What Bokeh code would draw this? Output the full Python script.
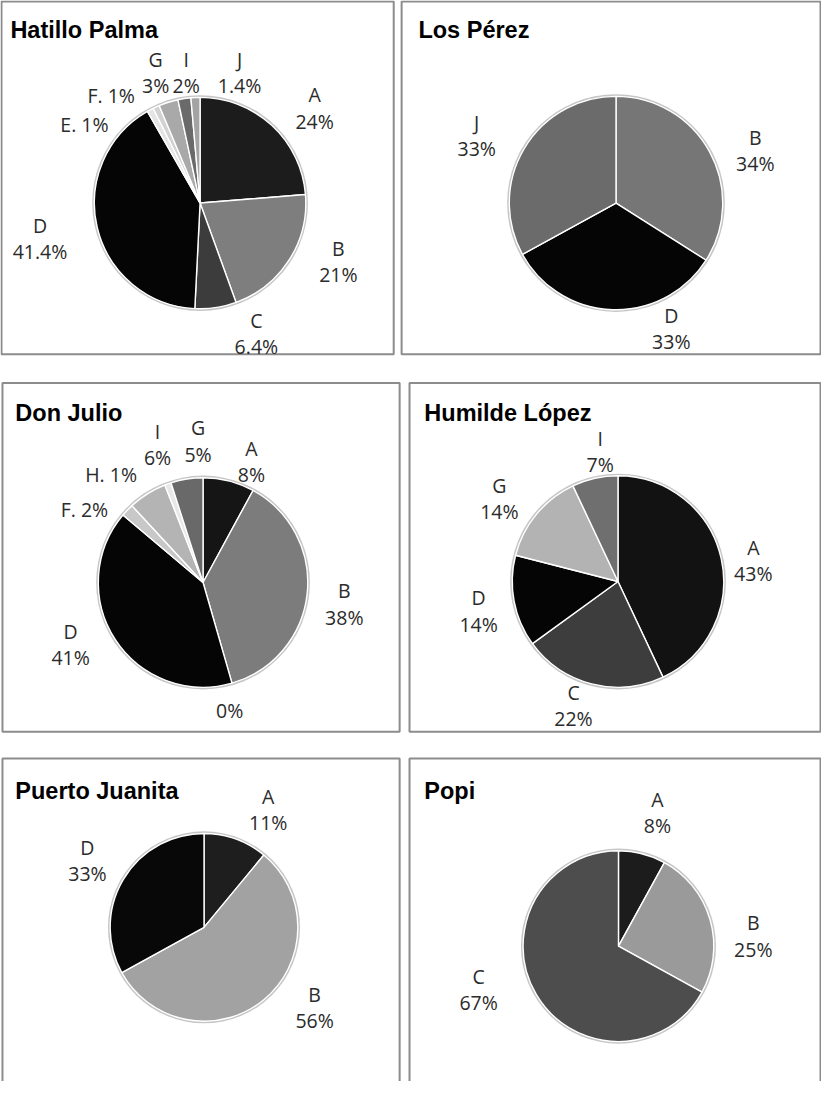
import math
from bokeh.plotting import figure
from bokeh.models import Range1d, ColumnDataSource
from bokeh.core.properties import value
from bokeh.embed import file_html
from bokeh.resources import INLINE

# ---------------- data ----------------
titles = ["Hatillo Palma", "Los Pérez", "Don Julio", "Humilde López", "Puerto Juanita", "Popi"]

hp_cats = ["A", "B", "C", "D", "E", "F", "G", "I", "J"]
hp_vals = [24, 21, 6.4, 41.4, 1, 1, 3, 2, 1.4]

lp_cats = ["B", "D", "J"]
lp_vals = [34, 33, 33]

dj_cats = ["A", "B", "C", "D", "F", "I", "H", "G"]
dj_vals = [8, 38, 0, 41, 2, 6, 1, 5]

hl_cats = ["A", "C", "D", "G", "I"]
hl_vals = [43, 22, 14, 14, 7]

pj_cats = ["A", "B", "D"]
pj_vals = [11, 56, 33]

po_cats = ["A", "B", "C"]
po_vals = [8, 25, 67]

# ---------------- styles / layout ----------------
hp_colors = ["#1c1c1c", "#7e7e7e", "#3c3c3c", "#050505", "#e4e4e4", "#d2d2d2", "#a9a9a9", "#6a6a6a", "#a3a3a3"]
lp_colors = ["#767676", "#050505", "#6b6b6b"]
dj_colors = ["#151515", "#7c7c7c", "#7c7c7c", "#050505", "#c8c8c8", "#b4b4b4", "#e8e8e8", "#696969"]
hl_colors = ["#121212", "#3d3d3d", "#050505", "#b3b3b3", "#6f6f6f"]
pj_colors = ["#1e1e1e", "#a2a2a2", "#080808"]
po_colors = ["#1c1c1c", "#9a9a9a", "#4d4d4d"]

# label modes: "two" = name over percent, "one" = "X. v%", "pct" = percent only
hp_modes = ["two", "two", "two", "two", "one", "one", "two", "two", "two"]
lp_modes = ["two"] * 3
dj_modes = ["two", "two", "pct", "two", "one", "two", "one", "two"]
hl_modes = ["two"] * 5
pj_modes = ["two"] * 3
po_modes = ["two"] * 3

# label anchor (center x, baseline of percent line) in page coordinates
hp_lab = [(321, 125), (345, 280), (262, 353), (43, 257), (88, 128), (115, 99), (160, 89), (191, 89), (245, 89)]
lp_lab = [(767, 168), (682, 348), (485, 153)]
dj_lab = [(257, 483), (351, 627), (235, 722), (74, 668), (88, 518), (162, 466), (115, 483), (203, 462)]
hl_lab = [(765, 583), (583, 730), (487, 634), (508, 520), (610, 473)]
pj_lab = [(274, 835), (321, 1035), (91, 887)]
po_lab = [(668, 838), (765, 963), (487, 1017)]

panels = [
    # title, cats, vals, colors, modes, labels, center, radius, box(l, r, t, b), title pos
    (titles[0], hp_cats, hp_vals, hp_colors, hp_modes, hp_lab, (205, 208), 107, (4, 401, 4, 361), (13, 33)),
    (titles[1], lp_cats, lp_vals, lp_colors, lp_modes, lp_lab, (626, 208), 108, (409, 833, 4, 361), (426, 33)),
    (titles[2], dj_cats, dj_vals, dj_colors, dj_modes, dj_lab, (208, 592), 106, (5, 407, 390, 743), (18, 420)),
    (titles[3], hl_cats, hl_vals, hl_colors, hl_modes, hl_lab, (628, 591), 107, (417, 833, 390, 743), (432, 420)),
    (titles[4], pj_cats, pj_vals, pj_colors, pj_modes, pj_lab, (209, 941), 95, (5, 407, 770, 1120), (18, 803)),
    (titles[5], po_cats, po_vals, po_colors, po_modes, po_lab, (628.5, 960), 96.5, (417, 833, 770, 1120), (432, 803)),
]

LINE_GAP = 26.5

p = figure(width=821, height=1081, x_range=Range1d(3, 834), y_range=Range1d(-1097, -3),
           output_backend="svg", toolbar_location=None, min_border=0,
           x_axis_location=None, y_axis_location=None)
p.grid.visible = False
p.outline_line_color = None
p.background_fill_color = "white"
p.border_fill_color = "white"

for (title, cats, vals, colors, modes, labs, (cx, cy), r, (bl, br, bt, bb), (tx, ty)) in panels:
    # panel border
    p.quad(left=[bl], right=[br], top=[-bt], bottom=[-bb], fill_color=None,
           line_color="#8c8c8c", line_width=2)
    # title
    p.text(x=[tx], y=[-ty], text=[title], text_font=value("Liberation Sans"),
           text_font_style="bold", text_font_size="23.5px", text_color="#000000",
           text_align="left", text_baseline="alphabetic")

    # wedges (clockwise from 12 o'clock)
    total = float(sum(vals))
    starts, ends, wcolors = [], [], []
    cum = 0.0
    for v, c in zip(vals, colors):
        a0 = math.pi / 2 - 2 * math.pi * cum / total
        cum += v
        a1 = math.pi / 2 - 2 * math.pi * cum / total
        if v > 0:
            starts.append(a1)
            ends.append(a0)
            wcolors.append(c)
    n = len(starts)
    src = ColumnDataSource(dict(x=[cx] * n, y=[-cy] * n, start=starts, end=ends, color=wcolors))
    p.circle(x=[cx], y=[-cy], radius=r + 2.2, fill_color="#c6c6c6", line_color=None)
    p.wedge(x="x", y="y", radius=r, start_angle="start", end_angle="end",
            fill_color="color", line_color="white", line_width=1.4, source=src)

    # labels
    name_x, name_y, name_t = [], [], []
    pct_x, pct_y, pct_t = [], [], []
    for c, v, m, (lx, ly) in zip(cats, vals, modes, labs):
        pct = f"{v:g}%"
        if m == "two":
            name_x.append(lx); name_y.append(-(ly - LINE_GAP)); name_t.append(c)
            pct_x.append(lx); pct_y.append(-ly); pct_t.append(pct)
        elif m == "one":
            pct_x.append(lx); pct_y.append(-ly); pct_t.append(f"{c}. {pct}")
        else:
            pct_x.append(lx); pct_y.append(-ly); pct_t.append(pct)
    for xs, ys, ts in ((name_x, name_y, name_t), (pct_x, pct_y, pct_t)):
        p.text(x=xs, y=ys, text=ts, text_font=value("Open Sans"), text_font_size="19.5px",
               text_color="#2b2b2b", text_align="center", text_baseline="alphabetic")

open("out.html", "w").write(file_html(p, INLINE))
